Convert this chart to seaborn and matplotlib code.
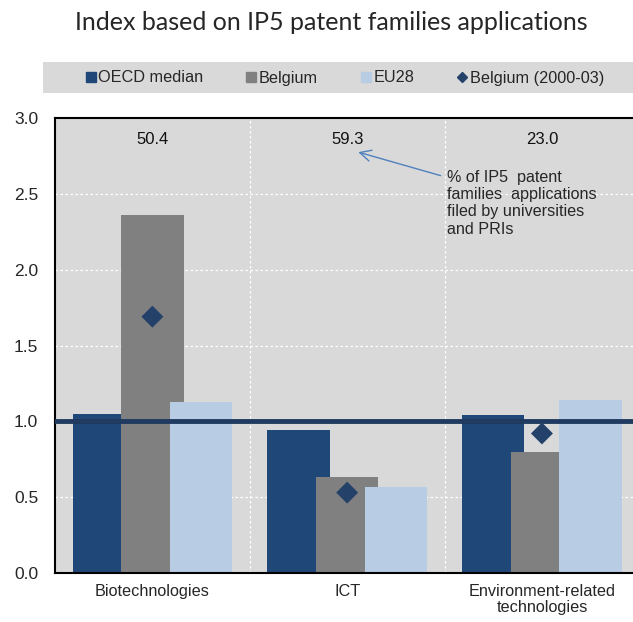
import numpy as np
import pandas as pd
import matplotlib
matplotlib.use("Agg")
import matplotlib.pyplot as plt
from matplotlib.patches import Rectangle
from matplotlib.lines import Line2D
import seaborn as sns

# Data
categories = ["Biotechnologies", "ICT", "Environment-related\ntechnologies"]
oecd_median = [1.05, 0.94, 1.04]
belgium = [2.36, 0.63, 0.80]
eu28 = [1.13, 0.57, 1.14]
belgium_2000_03 = [1.69, 0.53, 0.92]
univ_share = ["50.4", "59.3", "23.0"]

sns.set_theme(style="white")
plt.rcParams["font.family"] = ["Liberation Sans", "DejaVu Sans"]

c_oecd = "#1f4778"
c_bel = "#808080"
c_eu = "#b8cce4"
c_dia = "#24416a"
bg = "#d9d9d9"

fig = plt.figure(figsize=(6.33, 6.22), dpi=100)
ax = fig.add_axes([55 / 633, 1 - 573 / 622, 1 - 55 / 633 + 0.01, (573 - 118) / 622])
ax.set_facecolor(bg)

pos = np.arange(len(categories))
width = 0.32
step = 0.25
for off, vals, col in [(-step, oecd_median, c_oecd), (0, belgium, c_bel), (step, eu28, c_eu)]:
    sns.barplot(x=pos + off, y=vals, native_scale=True, width=width, color=col,
                saturation=1, edgecolor="none", linewidth=0, ax=ax, zorder=2)

ax.axhline(1.0, color="#203a60", lw=3.5, zorder=3)
sns.scatterplot(x=pos, y=belgium_2000_03, marker="D", s=125, color=c_dia,
                edgecolor="none", ax=ax, zorder=4)

for x, t in zip(pos, univ_share):
    ax.text(x, 2.86, t, ha="center", va="center", fontsize=12, color="#111111")

# note with arrow pointing at the ICT share
ax.text(1.51, 2.66, "% of IP5  patent\nfamilies  applications\nfiled by universities\nand PRIs",
        fontsize=11.6, ha="left", va="top", linespacing=1.2)
ax.annotate("", xy=(1.057, 2.775), xytext=(1.48, 2.62),
            arrowprops=dict(arrowstyle="->", color="#4f81bd", lw=1.0,
                            mutation_scale=20, shrinkA=0, shrinkB=0))

ax.set_xlim(-0.5, 2.5)
ax.set_ylim(0, 3.0)
ax.set_yticks(np.arange(0, 3.01, 0.5))
ax.set_yticklabels([f"{v:.1f}" for v in np.arange(0, 3.01, 0.5)], fontsize=12.5)
ax.set_xticks(pos)
ax.set_xticklabels(categories, fontsize=11.7, linespacing=1.1)
ax.set_xticks([0.5, 1.5], minor=True)
ax.tick_params(axis="x", which="major", length=0, pad=8)
ax.tick_params(axis="x", which="minor", length=4, width=1, color="black", direction="out")
ax.tick_params(axis="y", length=4, width=1, color="#777777", direction="in", pad=12)
ax.set_xlabel("")
ax.set_ylabel("")

for y in [0.5, 1.5, 2.0, 2.5]:
    ax.axhline(y, color="white", lw=0.9, ls=(0, (2, 2)), zorder=1)
for x in [0.5, 1.5]:
    ax.axvline(x, color="white", lw=0.9, ls=(0, (2, 2)), zorder=1)

for s in ["left", "bottom", "top"]:
    ax.spines[s].set_color("black")
    ax.spines[s].set_linewidth(1.5)
ax.spines["right"].set_visible(False)

# title and legend band
fig.text(331 / 633, 1 - 23 / 622, "Index based on IP5 patent families applications",
         ha="center", va="center", fontsize=18, family=["Lato", "DejaVu Sans"])
fig.patches.append(Rectangle((43 / 633, 1 - 93 / 622), 1, 31 / 622,
                             transform=fig.transFigure, facecolor=bg, edgecolor="none"))
handles = [
    Line2D([], [], marker="s", ls="none", color=c_oecd, markersize=6.5),
    Line2D([], [], marker="s", ls="none", color=c_bel, markersize=6.5),
    Line2D([], [], marker="s", ls="none", color=c_eu, markersize=6.5),
    Line2D([], [], marker="D", ls="none", color=c_dia, markersize=5),
]
fig.legend(handles, ["OECD median", "Belgium", "EU28", "Belgium (2000-03)"],
           loc="center", bbox_to_anchor=(345 / 633, 1 - 78 / 622), ncol=4,
           frameon=False, fontsize=11.7, handlelength=0.6, handletextpad=0.16,
           columnspacing=2.65)

fig.savefig("out.png", dpi=100)
